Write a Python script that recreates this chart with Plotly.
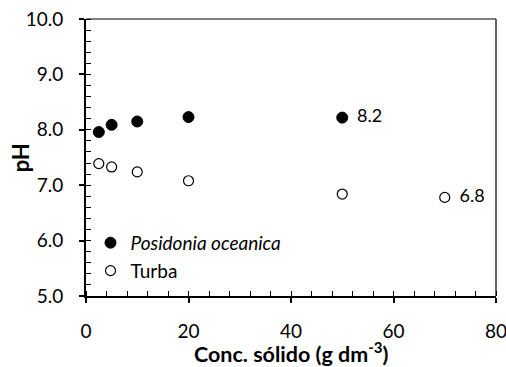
import plotly.graph_objects as go

# Data
conc_pos = [2.5, 5, 10, 20, 50]
ph_pos = [7.96, 8.09, 8.15, 8.23, 8.22]
conc_turba = [2.5, 5, 10, 20, 50, 70]
ph_turba = [7.39, 7.33, 7.24, 7.08, 6.84, 6.78]
series_names = ["<i>Posidonia oceanica</i>", "Turba"]
x_title = "Conc. sólido (g dm<sup>-3</sup>)"
y_title = "pH"

FONT = "Lato"
FS = 19
TFS = 22

fig = go.Figure()
fig.add_trace(go.Scatter(
    x=conc_pos, y=ph_pos, mode="markers", name=series_names[0],
    marker=dict(size=11, color="black", line=dict(color="black", width=1)),
    legend="legend",
))
fig.add_trace(go.Scatter(
    x=conc_turba, y=ph_turba, mode="markers", name=series_names[1],
    marker=dict(size=10, color="white", line=dict(color="black", width=1.2)),
    legend="legend2",
))
# data labels on the last point of each series
for xs, ys in [(conc_pos, ph_pos), (conc_turba, ph_turba)]:
    fig.add_trace(go.Scatter(
        x=xs[-1:], y=ys[-1:], mode="markers+text", text=[f"{ys[-1]:.1f}"],
        textposition="middle right", showlegend=False, hoverinfo="skip",
        marker=dict(size=22, color="rgba(0,0,0,0)", line=dict(width=0)),
        textfont=dict(family=FONT, size=18, color="black"),
    ))

axis_common = dict(
    showgrid=False, zeroline=False, showline=True, linecolor="black", linewidth=2,
    ticks="outside", ticklen=5, tickwidth=1.5, tickcolor="black",
    tickfont=dict(family=FONT, size=FS, color="black"),
    ticklabeloverflow="allow", automargin=False,
)
fig.update_xaxes(
    range=[0, 80], dtick=20, tick0=0, ticklabelstandoff=12,
    minor=dict(ticks="inside", dtick=4, ticklen=5, tickwidth=1.2, tickcolor="black"),
    **axis_common,
)
fig.update_yaxes(
    range=[5, 10], dtick=1, tick0=5, tickformat=".1f", ticklabelstandoff=12,
    minor=dict(ticks="inside", dtick=0.2, ticklen=5, tickwidth=1.2, tickcolor="black"),
    **axis_common,
)

fig.add_annotation(text=y_title, xref="paper", yref="paper", x=-0.159, y=0.5,
                   textangle=-90, showarrow=False, xanchor="center", yanchor="middle",
                   font=dict(family=FONT, size=TFS, color="black", weight="bold"))
fig.add_annotation(text=x_title, xref="paper", yref="paper", x=0.5, y=-0.2055,
                   showarrow=False, xanchor="center", yanchor="middle",
                   font=dict(family=FONT, size=21.5, color="black", weight="bold"))

fig.add_shape(type="line", xref="paper", yref="paper", x0=0, x1=1, y0=1, y1=1,
              line=dict(color="black", width=1.2))
fig.add_shape(type="line", xref="paper", yref="paper", x0=1, x1=1, y0=0, y1=1,
              line=dict(color="black", width=1.2))

leg_common = dict(bgcolor="rgba(0,0,0,0)", font=dict(family=FONT, size=FS, color="black"),
                  xanchor="left", yanchor="middle", itemwidth=30)
fig.update_layout(
    width=506, height=367,
    margin=dict(l=86, r=10, t=19, b=71),
    paper_bgcolor="white", plot_bgcolor="white",
    font=dict(family=FONT, size=FS, color="black"),
    legend=dict(x=0.011, y=0.192, **leg_common),
    legend2=dict(x=0.011, y=0.091, **leg_common),
    showlegend=True,
)

fig.write_html("out.html")
